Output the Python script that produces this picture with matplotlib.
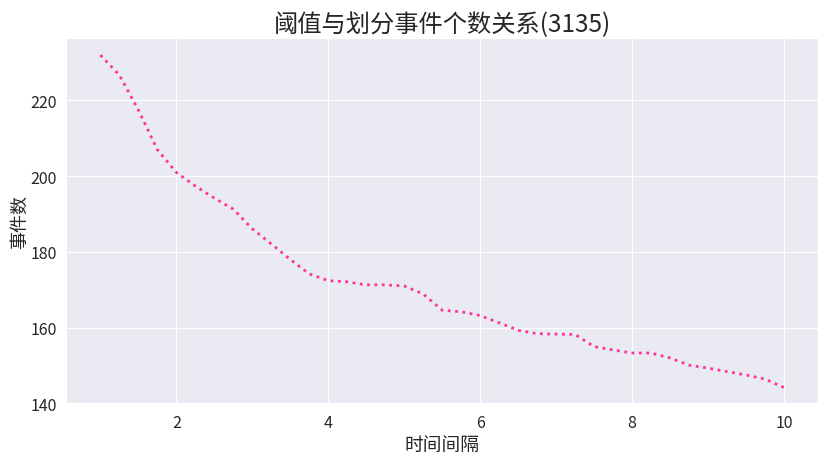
import matplotlib
matplotlib.use("Agg")
import matplotlib.pyplot as plt
import seaborn as sns
import numpy as np

sns.set_style("darkgrid")
plt.rcParams['font.family'] = ['Noto Sans CJK SC', 'DejaVu Sans']
plt.rcParams['axes.unicode_minus'] = False

# 阈值(时间间隔) 与 事件数
gaps = [1.0, 1.25, 1.5, 1.75, 2.0, 2.25, 2.5, 2.75, 3.0, 3.25, 3.5, 3.75,
        4.0, 4.25, 4.5, 4.75, 5.0, 5.25, 5.5, 5.75, 6.0, 6.25, 6.5, 6.75,
        7.0, 7.25, 7.5, 7.75, 8.0, 8.25, 8.5, 8.75, 9.0, 9.25, 9.5, 9.75, 10.0]
counts = [232, 226.7, 217.5, 207, 201, 197.4, 194.2, 191.3, 186.1, 182.1, 178, 174.2,
          172.4, 172.1, 171.3, 171.3, 171, 168.9, 164.6, 164.2, 163.2, 161.3, 159.3, 158.4,
          158.3, 158.2, 155, 154.1, 153.3, 153.3, 152, 150.1, 149.3, 148.4, 147.5, 146.4, 144.2]

fig, ax = plt.subplots(figsize=(8.28, 4.64), dpi=100)
ax.plot(gaps, counts, linestyle=':', color='#ff3399', lw=2)

ax.set_title('阈值与划分事件个数关系(3135)', fontsize=17.5, pad=5)
ax.set_xlabel('时间间隔', fontsize=13.5, labelpad=2)
ax.set_ylabel('事件数', fontsize=13, labelpad=1)
ax.tick_params(labelsize=11.5)

plt.subplots_adjust(left=0.08, right=0.988, top=0.915, bottom=0.127)
plt.savefig('out.png')
